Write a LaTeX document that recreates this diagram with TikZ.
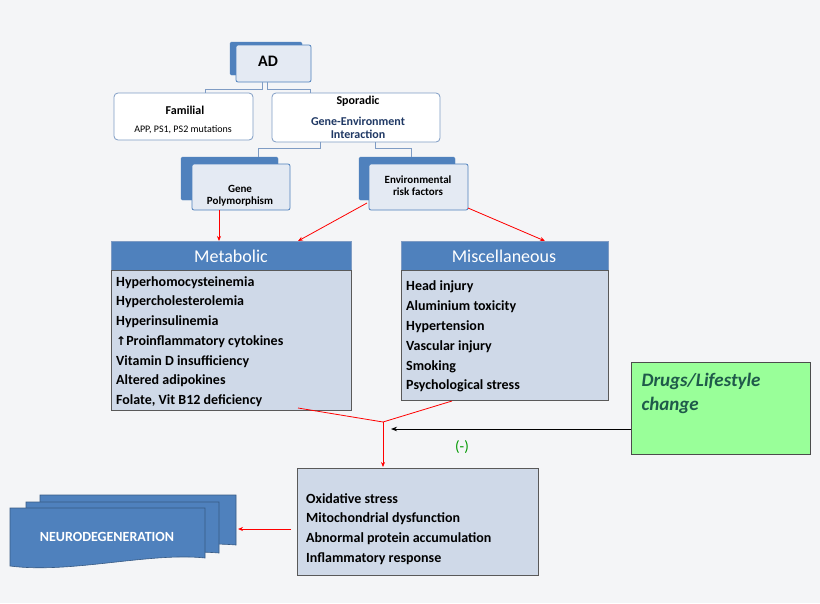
\documentclass[tikz,border=0pt]{standalone}
\usepackage{fontspec}
\setmainfont{Carlito}
\usetikzlibrary{arrows.meta}
\definecolor{bg}{HTML}{F4F5F7}
\definecolor{blu}{HTML}{4F81BD}
\definecolor{lblu}{HTML}{CFD9E8}
\definecolor{fbox}{HTML}{E4EAF3}
\definecolor{gbord}{HTML}{7F9CC4}
\definecolor{dblue}{HTML}{1F3864}
\definecolor{lgreen}{HTML}{99FF99}
\definecolor{dgreen}{HTML}{1F5A4A}
\tikzset{
 back/.style={fill=blu,draw=blu,rounded corners=1.5pt},
 front/.style={fill=fbox,draw=blu,line width=0.8pt,rounded corners=2pt},
 wbox/.style={fill=white,draw=gbord,line width=0.8pt,rounded corners=4pt},
 hdr/.style={fill=blu,draw=gbord,line width=0.6pt},
 body/.style={fill=lblu,draw=gray!70!black,line width=0.6pt},
 conn/.style={draw=gbord,line width=1pt},
 red/.style={draw=red,line width=0.8pt},
 redar/.style={red,-{Stealth[length=5pt,width=4pt]}},
 item/.style={anchor=west,font=\bfseries\fontsize{14}{16}\selectfont,inner sep=0pt},
 neu/.style={fill=blu,draw=blu!70!black,line width=0.6pt}
}
\begin{document}
\begin{tikzpicture}[x=1pt,y=-1pt]
\fill[bg] (0,0) rectangle (820,603);
\useasboundingbox (0,0) rectangle (820,603);
% AD
\draw[back] (230,42) rectangle (302,75);
\draw[front] (236,45) rectangle (311,82);
\node[font=\bfseries\fontsize{16}{18}\selectfont] (ad) at (268,61) {AD};
% Familial / Sporadic
\draw[wbox] (114,93) rectangle (253,140);
\node[font=\bfseries\fontsize{12}{14}\selectfont] (fam) at (185,110) {Familial};
\node[font=\fontsize{10}{12}\selectfont] (famsub) at (183,130) {APP, PS1, PS2 mutations};
\draw[wbox] (272,93) rectangle (440,142);
\node[font=\bfseries\fontsize{12}{14}\selectfont] (spo) at (358,101) {Sporadic};
\node[font=\bfseries\fontsize{12}{13}\selectfont,text=dblue,align=center] (gei) at (358,128) {Gene-Environment\\Interaction};
\draw[conn] (262,82) -- (262,89) -- (205,89) -- (205,93);
\draw[conn] (267,82) -- (267,89) -- (310,89) -- (310,93);
% Gene poly / env
\draw[back] (181,157) rectangle (278,200);
\draw[front] (192,164) rectangle (290,210);
\node[font=\bfseries\fontsize{11}{12}\selectfont,align=center] (gp) at (240,196) {Gene\\Polymorphism};
\draw[back] (359,157) rectangle (455,200);
\draw[front] (369,164) rectangle (468,210);
\node[font=\bfseries\fontsize{11}{12}\selectfont,align=center] (env) at (418,186) {Environmental\\risk factors};
\draw[conn] (320,142) -- (320,148) -- (258,148) -- (258,157);
\draw[conn] (375,142) -- (375,148) -- (411,148) -- (411,157);
% Metabolic
\draw[hdr] (111,241) rectangle (351,270);
\node[text=white,font=\fontsize{18}{20}\selectfont] (met) at (231,256) {Metabolic};
\draw[body] (111,270) rectangle (351,410);
\node[item] at (116,283) {Hyperhomocysteinemia};
\node[item] at (116,302) {Hypercholesterolemia};
\node[item] at (116,322) {Hyperinsulinemia};
\node[item] at (116,342) {\fontspec{DejaVu Sans}\fontsize{12}{14}\selectfont ↑\fontspec{Carlito}\bfseries\fontsize{14}{16}\selectfont Proinflammatory cytokines};
\node[item] at (116,362) {Vitamin D insufficiency};
\node[item] at (116,381) {Altered adipokines};
\node[item] at (116,401) {Folate, Vit B12 deficiency};
% Misc
\draw[hdr] (401,241) rectangle (608,270);
\node[text=white,font=\fontsize{18}{20}\selectfont] (mis) at (504,256) {Miscellaneous};
\draw[body] (401,270) rectangle (608,400);
\node[item] at (406,287) {Head injury};
\node[item] at (406,307) {Aluminium toxicity};
\node[item] at (406,327) {Hypertension};
\node[item] at (406,347) {Vascular injury};
\node[item] at (406,367) {Smoking};
\node[item] at (406,386) {Psychological stress};
% red connectors
\draw[redar] (219,210) -- (219,241);
\draw[redar] (367,203) -- (298,241);
\draw[redar] (468,208) -- (545,241);
\coordinate (j) at (383,422);
\draw[red] (298,408) -- (j);
\draw[red] (452,401) -- (j);
\draw[redar] (j) -- (383,467);
% drugs
\draw[fill=lgreen,draw=gray!60!black,line width=0.8pt] (631,362) rectangle (810,454);
\node[anchor=north west,text=dgreen,font=\bfseries\itshape\fontsize{19}{24}\selectfont,align=left] (drug) at (638,370) {Drugs/Lifestyle\\change};
\draw[-{Stealth[length=6pt,width=4.5pt]},line width=0.8pt] (631,429) -- (391,429);
\node[text=green!60!black,font=\fontsize{15}{17}\selectfont] (neg) at (462,447) {(-)};
% bottom box
\draw[body] (297,468) rectangle (538,575);
\node[item] at (306,499) {Oxidative stress};
\node[item] at (306,519) {Mitochondrial dysfunction};
\node[item] at (306,539) {Abnormal protein accumulation};
\node[item] at (306,559) {Inflammatory response};
% neurodegeneration
\draw[neu] (40,495) -- (236,495) -- (236,545) .. controls (180,540) and (100,556) .. (40,548) -- cycle;
\draw[neu] (26,502) -- (219,502) -- (219,553) .. controls (160,548) and (85,563) .. (26,555) -- cycle;
\draw[neu] (10,508) -- (205,508) -- (205,558) .. controls (150,552) and (70,574) .. (10,566) -- cycle;
\node[text=white,font=\bfseries\fontsize{14}{16}\selectfont] (neuro) at (107,537) {NEURODEGENERATION};
\draw[redar] (291,529) -- (238,529);
\end{tikzpicture}
\end{document}
